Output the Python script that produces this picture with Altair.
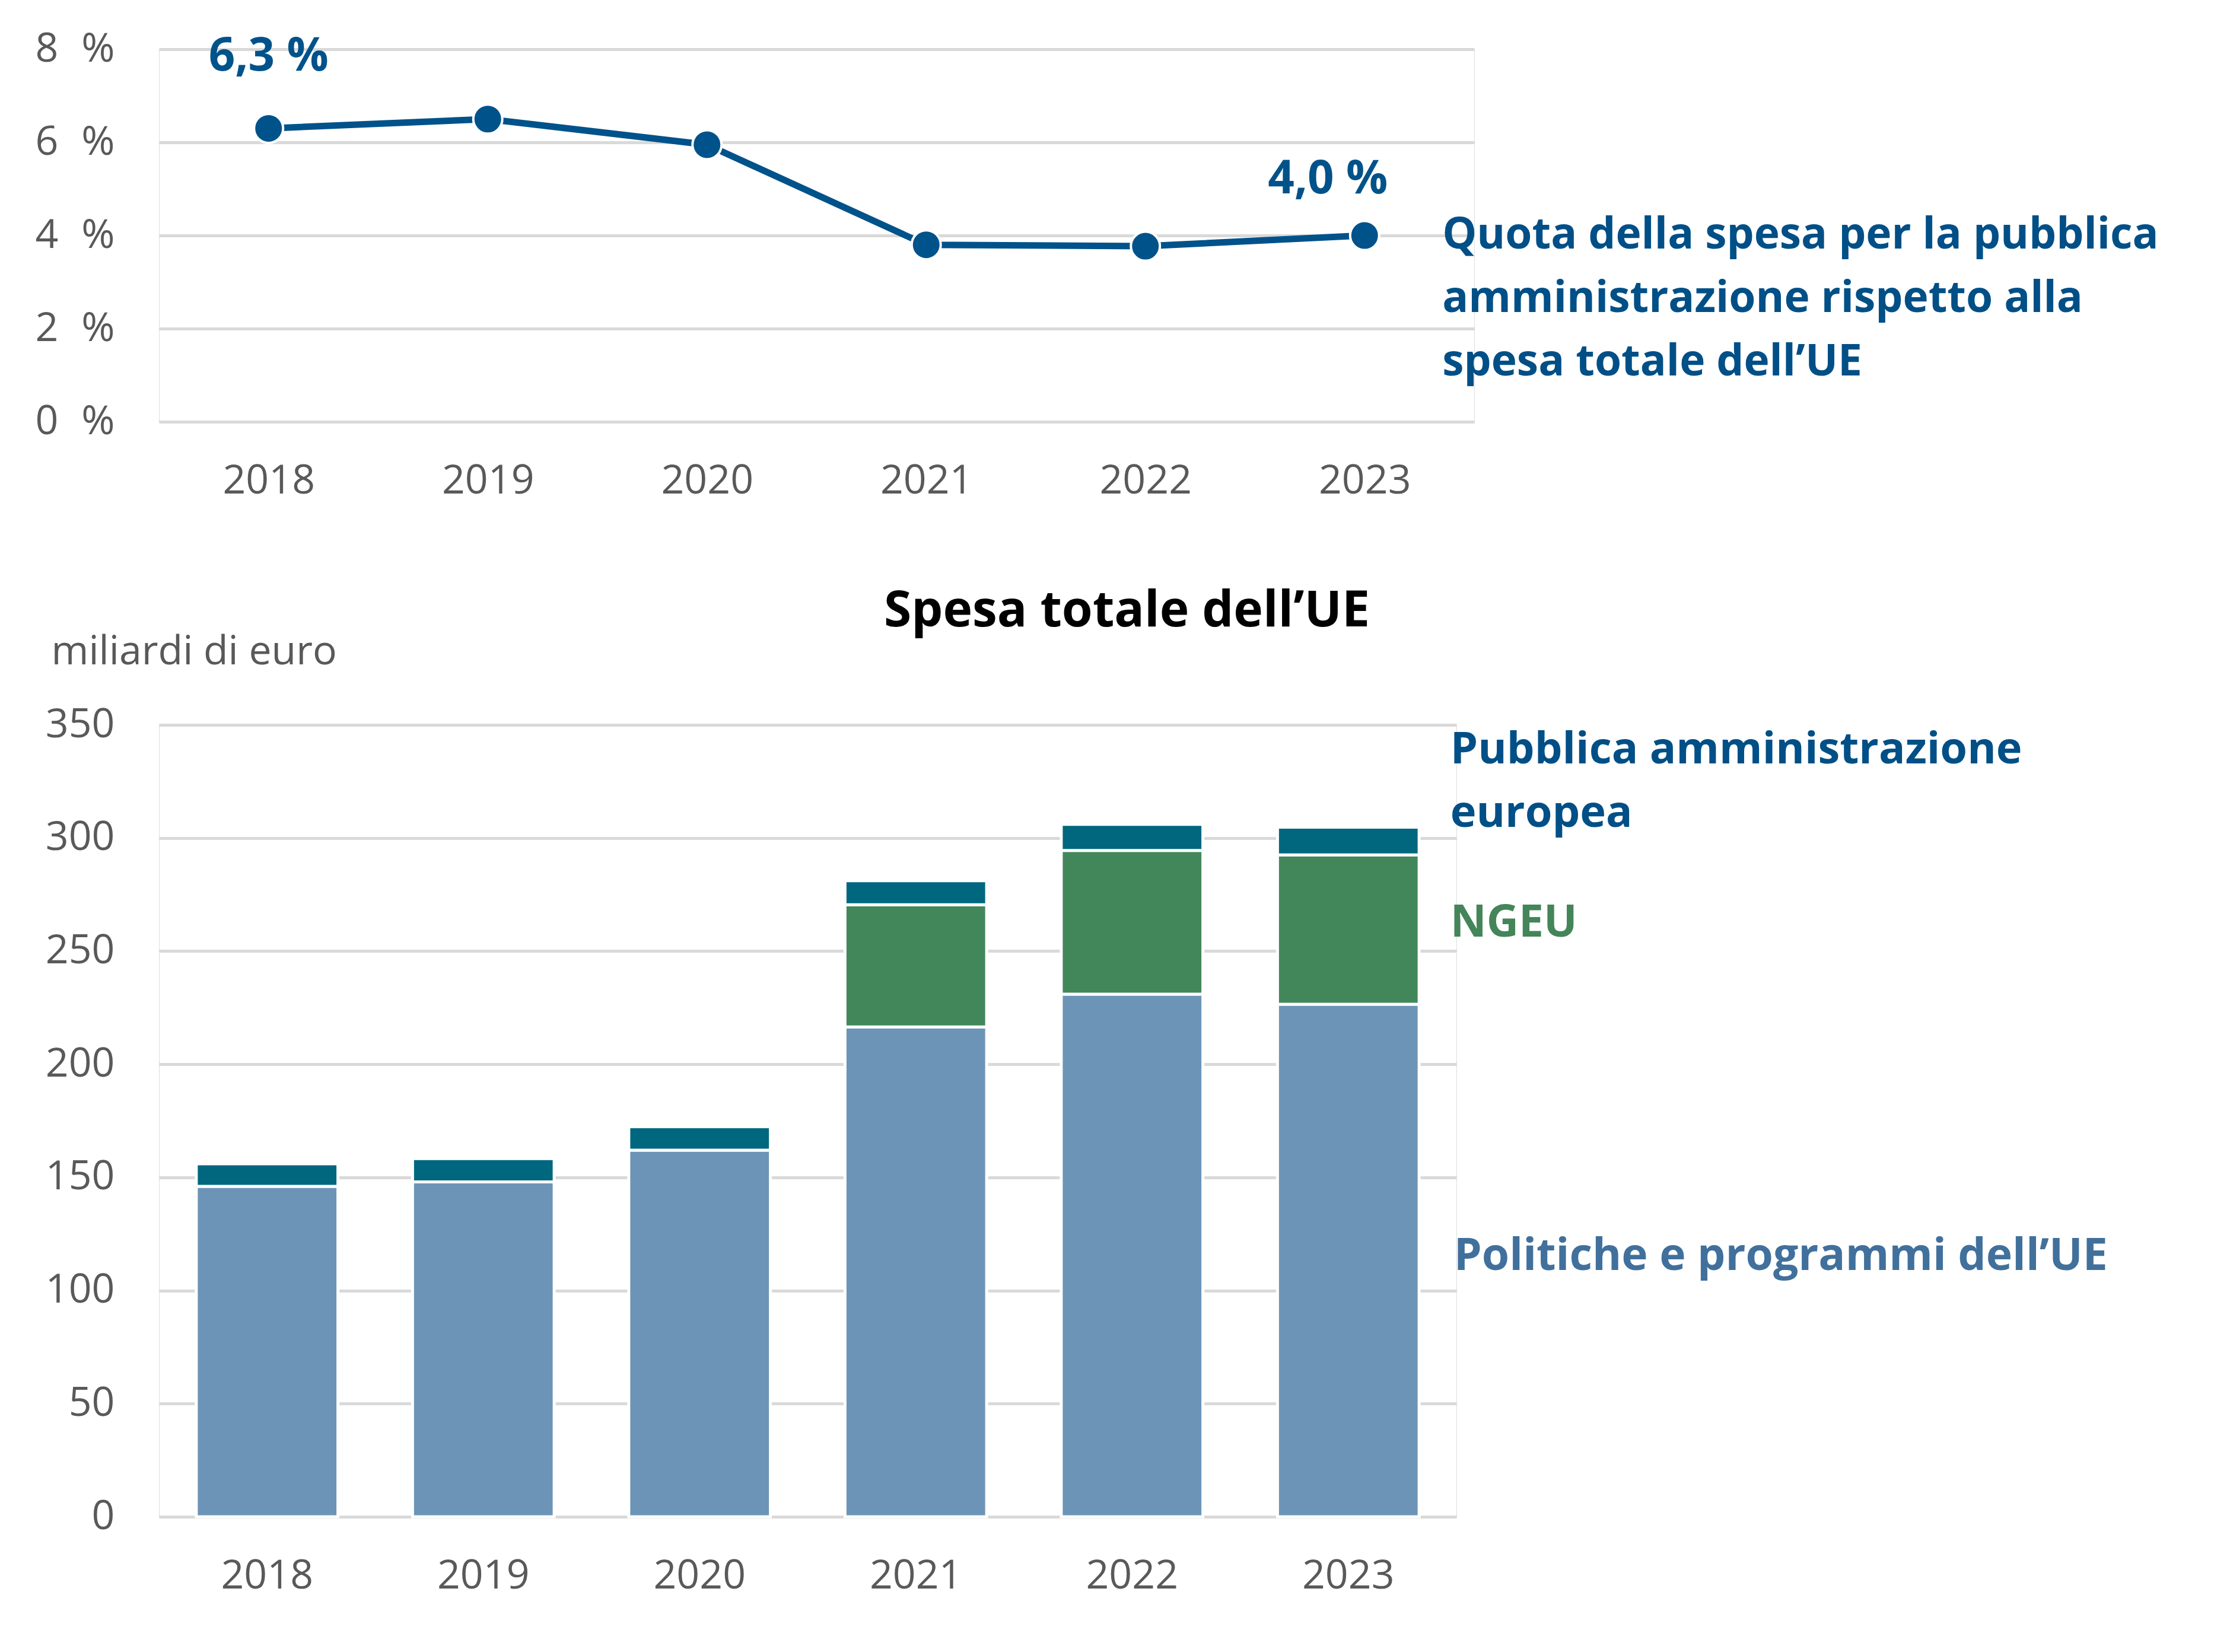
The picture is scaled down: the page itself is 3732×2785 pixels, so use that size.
import altair as alt
import pandas as pd

# ---- data ----
years = ["2018", "2019", "2020", "2021", "2022", "2023"]
share_pct = [6.3, 6.5, 5.95, 3.8, 3.77, 4.0]          # admin share of total EU spending (%)
policy = [146.0, 148.0, 162.0, 216.5, 231.0, 226.5]   # Politiche e programmi dell'UE
ngeu = [0.0, 0.0, 0.0, 54.0, 63.5, 66.0]              # NGEU
admin = [10.0, 10.3, 10.4, 10.6, 11.5, 12.3]          # Pubblica amministrazione europea
series_names = ["Politiche e programmi dell’UE", "NGEU", "Pubblica amministrazione europea"]
share_label_2018 = "6,3 %"
share_label_2023 = "4,0 %"
share_caption = "Quota della spesa per la pubblica\namministrazione rispetto alla\nspesa totale dell’UE"
bar_title = "Spesa totale dell’UE"
y_unit = "miliardi di euro"
pct_ticks = [0, 2, 4, 6, 8]
eur_ticks = [0, 50, 100, 150, 200, 250, 300, 350]

FONT = "Open Sans"
LINE_C = "#00528a"
C_POL, C_NGEU, C_ADM = "#6c94b6", "#42875a", "#00677f"
GRID = "#d9d9d9"
LABEL_C = "#595959"

# ---- top chart: share line ----
top_df = pd.DataFrame({"year": years, "share": share_pct})

x_top = alt.X("year:O", scale=alt.Scale(type="point", padding=0.5),
              axis=alt.Axis(title=None, domain=False, ticks=False, tickSize=0, labelAngle=0,
                            labelPadding=100, labelBaseline="middle", labelFontSize=68,
                            labelColor=LABEL_C, labelFont=FONT, grid=False))
top_axis = alt.Axis(title=None, values=pct_ticks, domain=False, ticks=False, tickSize=0,
                    labelExpr="datum.value + '\u2007%'", labelPadding=75,
                    labelFontSize=68, labelColor=LABEL_C, labelFont=FONT,
                    grid=True, gridColor=GRID, gridWidth=5)
y_top = alt.Y("share:Q", scale=alt.Scale(domain=[0, 8], nice=False), axis=top_axis)

base_top = alt.Chart(top_df)
line = base_top.mark_line(color=LINE_C, strokeWidth=11).encode(x=x_top, y=y_top)
pts = base_top.mark_circle(size=2400, color=LINE_C, opacity=1, stroke="white",
                           strokeWidth=4).encode(x=x_top, y=y_top)
lab18 = base_top.transform_filter("datum.year == '2018'").mark_text(
    font=FONT, fontSize=78, fontWeight="bold", color=LINE_C, dy=-120, baseline="middle"
).encode(x=x_top, y=y_top, text=alt.value(share_label_2018))
lab23 = base_top.transform_filter("datum.year == '2023'").mark_text(
    font=FONT, fontSize=78, fontWeight="bold", color=LINE_C, dx=-62, dy=-94, baseline="middle"
).encode(x=x_top, y=y_top, text=alt.value(share_label_2023))
cap = base_top.transform_filter("datum.year == '2023'").mark_text(
    font=FONT, fontSize=73, fontWeight="bold", color="#004f87", align="left",
    baseline="middle", dx=131, lineBreak="\n", lineHeight=107
).encode(x=x_top, y=y_top, text=alt.value(share_caption))

top = alt.layer(line, pts, lab18, lab23, cap).properties(width=2217, height=628)

# ---- bottom chart: stacked bars ----
rows = []
for i, y in enumerate(years):
    for k, (name, vals) in enumerate(zip(series_names, [policy, ngeu, admin])):
        rows.append({"year": y, "series": name, "value": vals[i], "order": k})
bar_df = pd.DataFrame(rows)

x_bot = alt.X("year:O", scale=alt.Scale(paddingInner=0.345, paddingOuter=0.1725),
              axis=alt.Axis(title=None, domain=False, ticks=False, tickSize=0, labelAngle=0,
                            labelPadding=100, labelBaseline="middle", labelFontSize=68,
                            labelColor=LABEL_C, labelFont=FONT, grid=False))
y_scale = alt.Scale(domain=[0, 350], nice=False)
bot_axis = alt.Axis(values=eur_ticks, domain=False, ticks=False, tickSize=0,
                    labelPadding=75, labelFontSize=68, labelColor=LABEL_C, labelFont=FONT,
                    grid=True, gridColor=GRID, gridWidth=5,
                    title=y_unit, titleAngle=0, titleAlign="left", titleBaseline="middle",
                    titleX=-182, titleY=-123, titleFontSize=68, titleFontWeight="normal",
                    titleColor=LABEL_C, titleFont=FONT)

base_bot = alt.Chart(bar_df).transform_filter("datum.value > 0")
bars = base_bot.mark_bar(stroke="white", strokeWidth=5).encode(
    x=x_bot,
    y=alt.Y("value:Q", stack="zero", scale=y_scale, axis=bot_axis),
    color=alt.Color("series:N", scale=alt.Scale(domain=series_names, range=[C_POL, C_NGEU, C_ADM]),
                    legend=None),
    order=alt.Order("order:Q", sort="ascending"),
)

stacked = base_bot.transform_stack(
    stack="value", groupby=["year"], as_=["v0", "v1"],
    sort=[alt.SortField("order", "ascending")]
).transform_calculate(mid="(datum.v0 + datum.v1) / 2").transform_filter("datum.year == '2023'")


def seg_label(name, text, color, dx, dy, size):
    return stacked.transform_filter(alt.datum.series == name).mark_text(
        font=FONT, fontSize=size, fontWeight="bold", color=color, align="left",
        baseline="middle", dx=dx, dy=dy, lineBreak="\n", lineHeight=107
    ).encode(x=x_bot, y=alt.Y("mid:Q", scale=y_scale, axis=bot_axis), text=alt.value(text))


lab_pol = seg_label(series_names[0], "Politiche e programmi dell’UE", "#41709c", 178, -7, 75)
lab_ngeu = seg_label(series_names[1], "NGEU", "#448559", 172, -11, 75)
lab_adm = seg_label(series_names[2], "Pubblica amministrazione\neuropea", "#004f87", 172, -153, 74)

bottom = alt.layer(bars, lab_pol, lab_ngeu, lab_adm).properties(
    width=2187, height=1335,
    title=alt.TitleParams(bar_title, anchor="middle", frame="group", dx=538, dy=29, offset=20,
                          fontSize=84, fontWeight="bold", color="black", font=FONT),
)

chart = alt.vconcat(top, bottom, spacing=511, bounds="flush").properties(
    padding={"left": 50, "top": 40, "right": 20, "bottom": 20}
).configure_view(strokeWidth=0).configure(font=FONT)

chart.save("out.html", embed_options={"renderer": "svg", "actions": False})
